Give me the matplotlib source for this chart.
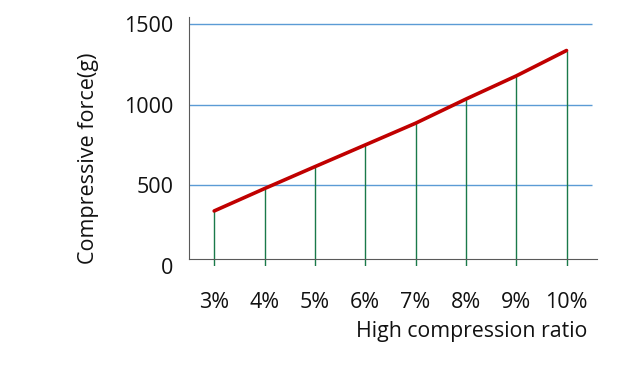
import matplotlib
matplotlib.use("Agg")
import matplotlib.pyplot as plt

plt.rcParams["font.family"] = ["Open Sans", "DejaVu Sans"]

ratios = ["3%", "4%", "5%", "6%", "7%", "8%", "9%", "10%"]
force = [339, 478, 614, 749, 884, 1034, 1178, 1336]
y_ticks = [0, 500, 1000, 1500]

fig = plt.figure(figsize=(6.44, 3.70), dpi=100)
ax = fig.add_axes([0.2935, 0.2824, 0.6331, 0.672])

x = list(range(len(ratios)))

# horizontal grid lines
ax.hlines(y_ticks[1:], -0.5, len(ratios) - 0.5, color="#5b9bd5", lw=1, zorder=1)
# drop lines
ax.vlines(x, 0, force, color="#1a7a4a", lw=1, zorder=2)
ax.plot(x, force, color="#c00000", lw=2.6, solid_capstyle="round", zorder=3)

ax.set_xlim(-0.5, len(ratios) - 0.4)
ax.set_ylim(0, 1545)
ax.set_xticks(x)
ax.set_xticklabels(ratios)
ax.set_yticks(y_ticks)

for s in ["top", "right"]:
    ax.spines[s].set_visible(False)
ax.spines["left"].set_color("#595959")
ax.spines["left"].set_bounds(40, 1545)
ax.spines["bottom"].set_color("#595959")
ax.spines["bottom"].set_position(("data", 40))

ax.tick_params(axis="x", length=0, pad=24, labelsize=15.5, colors="#111111")
ax.tick_params(axis="y", length=0, pad=11, labelsize=15.5, colors="#111111")

fig.text(0.137, 0.573, "Compressive force(g)", rotation=90, ha="center", va="center",
         fontsize=15.5, color="#111111")
fig.text(0.912, 0.103, "High compression ratio", ha="right", va="center",
         fontsize=15.3, color="#111111")

fig.savefig("out.png", dpi=100)
